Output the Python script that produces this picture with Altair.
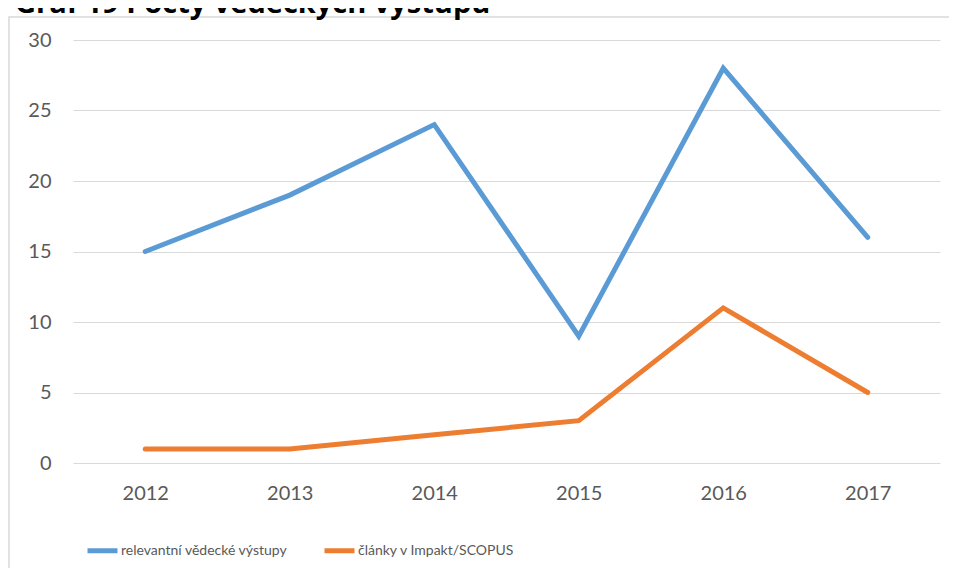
import altair as alt
import pandas as pd

years = ["2012", "2013", "2014", "2015", "2016", "2017"]
series_names = ["relevantní vědecké výstupy", "články v Impakt/SCOPUS"]
vystupy = [15, 19, 24, 9, 28, 16]
clanky = [1, 1, 2, 3, 11, 5]
y_ticks = [0, 5, 10, 15, 20, 25, 30]
colors = ["#5B9BD5", "#ED7D31"]
title_text = "Graf 19 Počty vědeckých výstupů"

rows = []
for name, vals in zip(series_names, [vystupy, clanky]):
    for yr, v in zip(years, vals):
        rows.append({"rok": yr, "serie": name, "hodnota": v})
df = pd.DataFrame(rows)

lines = alt.Chart(df).mark_line(strokeWidth=5, strokeCap="round").encode(
    x=alt.X("rok:O", sort=years,
            scale=alt.Scale(type="point", padding=0.5),
            axis=alt.Axis(title=None, labelAngle=0, domain=False, ticks=False,
                          grid=False, labelFont="Lato", labelFontSize=20,
                          labelColor="#595959", labelPadding=20)),
    y=alt.Y("hodnota:Q", scale=alt.Scale(domain=[0, 30], nice=False),
            axis=alt.Axis(title=None, values=y_ticks, domain=False, ticks=False,
                          gridColor="#d9d9d9", gridWidth=1, labelFont="Lato",
                          labelFontSize=20, labelColor="#595959", labelPadding=22)),
    color=alt.Color("serie:N",
                    scale=alt.Scale(domain=series_names, range=colors),
                    legend=alt.Legend(title=None, orient="none", legendX=12,
                                      legendY=493, direction="horizontal",
                                      symbolType="stroke", symbolStrokeWidth=5,
                                      symbolSize=900, labelFont="Lato",
                                      labelFontSize=14, labelColor="#595959",
                                      labelLimit=0, columnPadding=26,
                                      labelOffset=1)),
    order=alt.Order("rok:O"),
)

frame = alt.Chart(alt.Data(values=[{"a": 1}])).mark_rect(
    fill=None, stroke="#d9d9d9", strokeWidth=1.5
).encode(
    x=alt.value(-64), x2=alt.value(920), y=alt.value(-23), y2=alt.value(600)
)

title = alt.Chart(alt.Data(values=[{"t": title_text}])).mark_text(
    align="left", baseline="alphabetic", font="Open Sans", fontWeight="bold",
    fontSize=29, color="#000000"
).encode(
    x=alt.value(-58), y=alt.value(-27), text="t:N"
)

chart = alt.layer(frame, lines, title).properties(
    width=867, height=423,
    autosize=alt.AutoSizeParams(type="none"),
    padding={"left": 65, "top": 32, "right": 9, "bottom": 105},
).configure_view(stroke=None)

chart.save("out.html", embed_options={"renderer": "svg", "actions": False})
